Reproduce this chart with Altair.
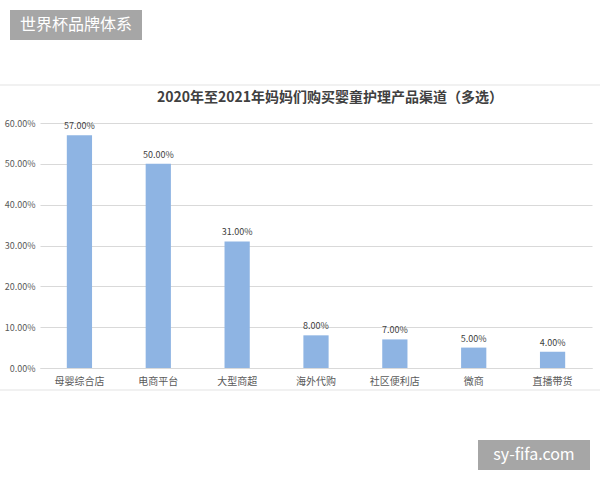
import altair as alt
import pandas as pd

categories = ["母婴综合店", "电商平台", "大型商超", "海外代购", "社区便利店", "微商", "直播带货"]
values = [0.57, 0.50, 0.31, 0.08, 0.07, 0.05, 0.04]
y_ticks = [0, 0.1, 0.2, 0.3, 0.4, 0.5, 0.6]
title_text = "2020年至2021年妈妈们购买婴童护理产品渠道（多选）"
header_text = "世界杯品牌体系"
watermark_text = "sy-fifa.com"

df = pd.DataFrame({"cat": categories, "val": values})
FONT = "Noto Sans CJK SC"

x_enc = alt.X("cat:N", sort=categories, title=None,
              scale=alt.Scale(paddingInner=0.68, paddingOuter=0.34),
              axis=alt.Axis(labelAngle=0, labelFont=FONT, labelFontSize=10,
                            labelColor="#595959", ticks=False, domain=True,
                            domainColor="#d9d9d9", labelPadding=8))
y_enc = alt.Y("val:Q", title=None,
              scale=alt.Scale(domain=[0, 0.6], nice=False),
              axis=alt.Axis(values=y_ticks, format=".2%", labelFont=FONT,
                            labelFontSize=9, labelColor="#595959", ticks=False,
                            domain=False, grid=True, gridColor="#d9d9d9",
                            labelPadding=5))

base = alt.Chart(df)
bars = base.mark_bar(color="#8EB4E3").encode(x=x_enc, y=y_enc)
labels = base.mark_text(dy=-9, fontSize=9, font=FONT, color="#404040").encode(
    x=alt.X("cat:N", sort=categories), y="val:Q",
    text=alt.Text("val:Q", format=".2%"))

one = pd.DataFrame({"t": [title_text], "h": [header_text], "w": [watermark_text]})
obase = alt.Chart(one)
title = obase.mark_text(font=FONT, fontSize=14, fontWeight="bold", color="#404040").encode(
    x=alt.value(290), y=alt.value(-25), text="t:N")
top_line = obase.mark_rule(color="#e3e3e3").encode(
    x=alt.value(-40), x2=alt.value(560), y=alt.value(-38))
bot_line = obase.mark_rule(color="#e3e3e3").encode(
    x=alt.value(-40), x2=alt.value(560), y=alt.value(267))
header_box = obase.mark_rect(color="#a6a6a6").encode(
    x=alt.value(-30), x2=alt.value(102), y=alt.value(-113), y2=alt.value(-83))
header = obase.mark_text(font=FONT, fontSize=16, color="white").encode(
    x=alt.value(36), y=alt.value(-98), text="h:N")
wm_box = obase.mark_rect(color="#a6a6a6").encode(
    x=alt.value(438), x2=alt.value(550), y=alt.value(317), y2=alt.value(347))
wm = obase.mark_text(font=FONT, fontSize=16, color="white").encode(
    x=alt.value(494), y=alt.value(332), text="w:N")

chart = alt.layer(bars, labels, title, top_line, bot_line, header_box, header, wm_box, wm).properties(
    width=552, height=245,
    autosize=alt.AutoSizeParams(type="none"),
    padding={"left": 40, "top": 123, "right": 8, "bottom": 112},
    background="white",
).configure_view(stroke=None)

chart.save("out.html", embed_options={"renderer": "svg", "actions": False})
